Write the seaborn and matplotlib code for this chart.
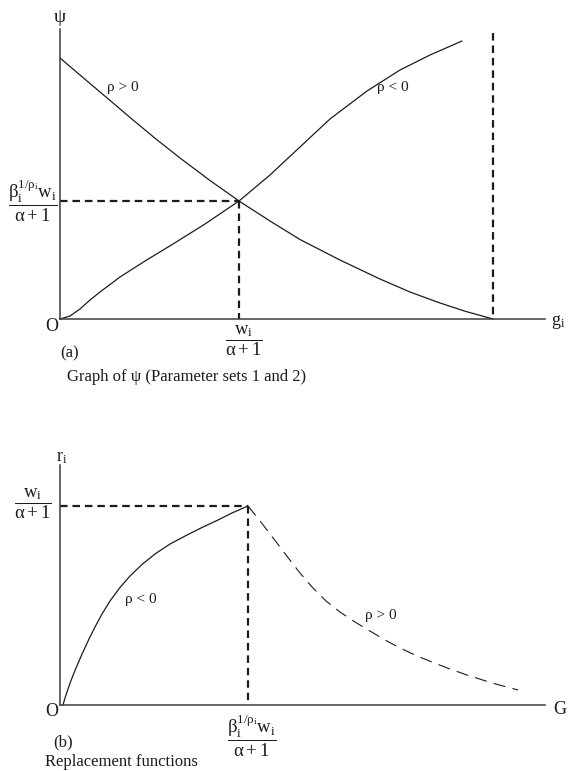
import matplotlib
matplotlib.use("Agg")
import matplotlib.pyplot as plt
import seaborn as sns

# ---- Panel (a): psi as a function of g_i (arbitrary units 0-100) ----
g_pos = [0, 4.12, 8.25, 11.55, 15.05, 19.79, 24.74, 30.93, 36.91, 43.30,
         49.48, 57.73, 65.98, 72.16, 78.35, 83.71, 89.28]
psi_pos = [90.0, 84.14, 78.28, 73.62, 68.62, 62.07, 55.52, 47.76, 40.69, 33.79,
           27.41, 20.34, 13.79, 9.31, 5.52, 2.59, 0]
g_neg = [0, 2.06, 4.12, 6.19, 8.25, 12.37, 17.53, 23.30, 29.90, 36.91, 43.30,
         49.48, 55.67, 63.30, 70.10, 76.29, 82.89]
psi_neg = [0, 1.03, 3.45, 6.55, 9.31, 14.48, 20.0, 25.86, 32.76, 40.69, 49.66,
           59.31, 68.97, 78.62, 85.86, 91.03, 95.86]
g_cross, psi_cross = 36.91, 40.69
g_bound, psi_bound = 89.28, 98.6

# ---- Panel (b): replacement functions r_i(G) ----
G_neg = [0.62, 1.03, 1.65, 2.27, 3.09, 3.92, 4.74, 5.98, 7.22, 8.66, 10.31,
         12.37, 14.43, 16.91, 19.59, 22.68, 26.19, 29.28, 32.37, 35.46, 38.76]
r_neg = [0, 2.92, 6.67, 10.21, 14.38, 18.33, 22.08, 27.5, 32.5, 37.92, 43.33,
         48.96, 53.75, 58.54, 62.92, 67.08, 70.83, 73.96, 76.88, 80.0, 82.92]
G_pos = [38.76, 41.65, 44.33, 47.01, 49.48, 52.16, 54.85, 57.73, 60.82, 63.92,
         67.01, 70.10, 73.40, 76.91, 80.41, 83.92, 89.07, 94.43]
r_pos = [82.92, 75.63, 68.54, 61.46, 55.0, 48.75, 43.33, 38.75, 34.58, 30.83,
         27.08, 23.75, 20.63, 17.71, 15.0, 12.5, 9.17, 6.25]
G_peak, r_peak = 38.76, 82.92

FRAC_PSI = r"$\dfrac{\beta_i^{1/\rho_i}w_i}{\alpha + 1}$"
FRAC_W = r"$\dfrac{w_i}{\alpha + 1}$"

sns.set_theme(style="white")
plt.rcParams["font.family"] = ["Liberation Serif", "DejaVu Serif"]
plt.rcParams["mathtext.fontset"] = "custom"
plt.rcParams["mathtext.rm"] = "Liberation Serif"
plt.rcParams["mathtext.it"] = "Liberation Serif"
plt.rcParams["mathtext.default"] = "regular"

W, H = 568, 771
fig = plt.figure(figsize=(W / 100, H / 100), dpi=100)
fig.patch.set_facecolor("white")

INK = "#1c1c1c"
AXIS = "#3c3c3c"


def px_axes(left, top, right, bottom):
    return fig.add_axes([left / W, 1 - bottom / H, (right - left) / W, (bottom - top) / H])


def label(x, y, s, size, ha="left", va="center", **kw):
    fig.text(x / W, 1 - y / H, s, fontsize=size, ha=ha, va=va, color=INK, **kw)


def style_axes(ax):
    ax.set_xlim(0, 100)
    ax.set_ylim(0, 100)
    ax.set_xticks([])
    ax.set_yticks([])
    ax.set_facecolor("white")
    for side in ("top", "right"):
        ax.spines[side].set_visible(False)
    for side in ("left", "bottom"):
        ax.spines[side].set_color(AXIS)
        ax.spines[side].set_linewidth(1.1)


guide = dict(color=INK, lw=1.6, linestyle=(0, (3.4, 2.2)), clip_on=False)

# ---- top panel ----
ax1 = px_axes(60, 29, 545, 319)
style_axes(ax1)
sns.lineplot(x=g_pos, y=psi_pos, ax=ax1, sort=False, estimator=None,
             color=INK, lw=0.9)
sns.lineplot(x=g_neg, y=psi_neg, ax=ax1, sort=False, estimator=None,
             color=INK, lw=0.9)
ax1.plot([0, g_cross], [psi_cross, psi_cross], **guide)
ax1.plot([g_cross, g_cross], [psi_cross, 0], **guide)
ax1.plot([g_bound, g_bound], [psi_bound, 0], **guide)
for ln in ax1.lines:
    ln.set_clip_on(False)

label(60, 18, "ψ", 14, ha="center")
label(107, 88, "ρ > 0", 11)
label(377, 88, "ρ < 0", 11)
label(52, 326, "O", 13, ha="center")
label(551, 322, r"$g_i$", 13)
label(33, 201, FRAC_PSI, 13.5, ha="center")
label(244, 341, FRAC_W, 13.5, ha="center")
label(60, 353, "(a)", 12)
label(67, 377, "Graph of ψ (Parameter sets 1 and 2)", 12)

# ---- bottom panel ----
ax2 = px_axes(60, 465, 545, 705)
style_axes(ax2)
sns.lineplot(x=G_neg, y=r_neg, ax=ax2, sort=False, estimator=None,
             color=INK, lw=0.9)
sns.lineplot(x=G_pos, y=r_pos, ax=ax2, sort=False, estimator=None,
             color=INK, lw=0.8, linestyle=(0, (11, 6.5)))
ax2.plot([0, G_peak], [r_peak, r_peak], **guide)
ax2.plot([G_peak, G_peak], [r_peak, 0], **guide)
for ln in ax2.lines:
    ln.set_clip_on(False)

label(62, 458, r"$r_i$", 13, ha="center")
label(125, 600, "ρ < 0", 11)
label(365, 615, "ρ > 0", 11)
label(52, 712, "O", 13, ha="center")
label(553, 710, "G", 13)
label(33, 504, FRAC_W, 13.5, ha="center")
label(252, 736, FRAC_PSI, 13.5, ha="center")
label(53, 742, "(b)", 12)
label(45, 762, "Replacement functions", 12)

fig.savefig("out.png", dpi=100, facecolor="white")
